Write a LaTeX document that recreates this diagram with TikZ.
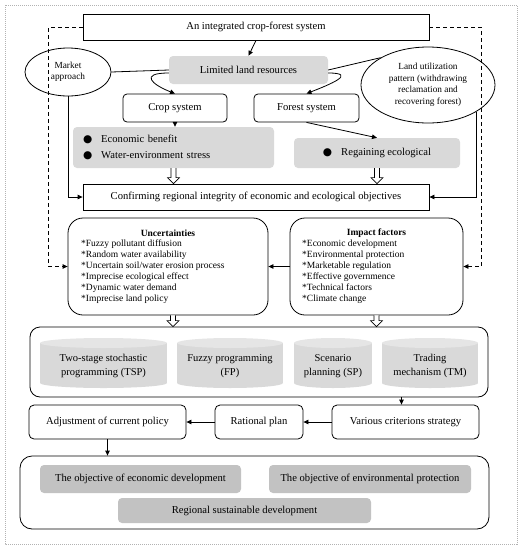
\documentclass[tikz,border=0pt]{standalone}
\usepackage{fontspec}
\setmainfont{Liberation Serif}
\newfontfamily\dejavu{DejaVu Sans}
\usetikzlibrary{arrows.meta,shapes.geometric,calc}
\definecolor{lightg}{gray}{0.85}
\definecolor{topg}{gray}{0.9}
\definecolor{darkg}{gray}{0.76}
\newcommand{\bul}{{\dejavu ●}}
\newcommand{\hollow}[2]{\draw[line width=0.6pt, fill=white] ($(#1)+(-2.5,0)$) -- ($(#2)+(-2.5,-6)$) -- ($(#2)+(-6,-6)$) -- (#2) -- ($(#2)+(6,-6)$) -- ($(#2)+(2.5,-6)$) -- ($(#1)+(2.5,0)$);}
\newcommand{\cyl}[4]{%
  \fill[lightg] (#2,343) rectangle (#3,383);
  \fill[lightg] ({(#2+#3)/2},383) ellipse ({(#3-#2)/2} and 5);
  \fill[topg] ({(#2+#3)/2},343) ellipse ({(#3-#2)/2} and 5);
  \node[cyltext] (#1) at ({(#2+#3)/2},366) {#4};}
\begin{document}
\begin{tikzpicture}[x=1pt,y=-1pt,
  every node/.style={font=\fontsize{10.6}{12}\selectfont},
  box/.style={draw, line width=0.8pt, inner sep=0pt, align=center},
  rbox/.style={box, rounded corners=4pt},
  gbox/.style={fill=lightg, rounded corners=4pt, inner sep=0pt, align=center},
  dbox/.style={fill=darkg, rounded corners=4pt, inner sep=0pt, align=center},
  arr/.style={line width=0.8pt, -{Triangle[length=5pt,width=4.5pt]}},
  dasharr/.style={arr, dash pattern=on 4pt off 3pt},
  small/.style={font=\fontsize{9.5}{11}\selectfont},
  ell/.style={draw, ellipse, line width=0.8pt, inner sep=0pt, align=center, font=\fontsize{9.3}{11.5}\selectfont},
  cyltext/.style={align=center, inner sep=0pt, font=\fontsize{10.5}{14}\selectfont},
  plain/.style={line width=0.8pt}
]
\useasboundingbox (0,0) rectangle (521,550);
\draw[gray!60, line width=0.6pt, dash pattern=on 1pt off 1pt] (5,5) rectangle (517,544);

% top part
\node[box, minimum width=346pt, minimum height=26pt] (top) at (256,27) {An integrated crop-forest system};
\node[gbox, minimum width=159pt, minimum height=28pt] (land) at (248.5,70) {Limited land resources};
\node[rbox, minimum width=104pt, minimum height=28pt] (crop) at (175,108) {Crop system};
\node[rbox, minimum width=105pt, minimum height=28pt] (forest) at (306.5,108) {Forest system};
\node[gbox, minimum width=201pt, minimum height=41pt, text width=181pt, align=left, inner xsep=10pt, font=\fontsize{10.6}{16}\selectfont] (cropb) at (173.5,147.5) {\bul\hspace{9pt}Economic benefit\\ \bul\hspace{9pt}Water-environment stress};
\node[gbox, minimum width=166pt, minimum height=30pt] (regain) at (377,153) {\bul\hspace{9pt}Regaining ecological};
\node[box, minimum width=346pt, minimum height=26pt] (conf) at (256,197) {Confirming regional integrity of economic and ecological objectives};
\node[ell, minimum width=86pt, minimum height=48pt] (market) at (68,72) {Market\\approach};
\node[ell, minimum width=134pt, minimum height=76pt] (lu) at (428,85) {Land utilization\\pattern (withdrawing\\reclamation and\\recovering forest)};

% uncertainties / impact
\node[box, rounded corners=15pt, minimum width=200pt, minimum height=97pt] (unc) at (168,266.5) {};
\node[box, rounded corners=15pt, minimum width=173pt, minimum height=97pt] (imp) at (376.5,266.5) {};
\node[small] (unct) at (168,233) {\textbf{Uncertainties}};
\node[small, anchor=north west, align=left, inner sep=0pt] (unci) at (81,240) {*Fuzzy pollutant diffusion\\*Random water availability\\*Uncertain soil/water erosion process\\*Imprecise ecological effect\\*Dynamic water demand\\*Imprecise land policy};
\node[small] (impt) at (376.5,233) {\textbf{Impact factors}};
\node[small, anchor=north west, align=left, inner sep=0pt] (impi) at (302,240) {*Economic development\\*Environmental protection\\*Marketable regulation\\*Effective governmence\\*Technical factors\\*Climate change};

% methods
\node[box, rounded corners=10pt, minimum width=458pt, minimum height=70pt] (methods) at (259,362) {};
\cyl{tsp}{40}{167}{Two-stage stochastic\\programming (TSP)}
\cyl{fp}{177}{283}{Fuzzy programming\\(FP)}
\cyl{sp}{294}{372}{Scenario\\planning (SP)}
\cyl{tm}{382}{478}{Trading\\mechanism (TM)}

% bottom row
\node[rbox, rounded corners=5pt, minimum width=157pt, minimum height=34pt] (adjust) at (107.5,422) {Adjustment of current policy};
\node[rbox, rounded corners=5pt, minimum width=88pt, minimum height=34pt] (rational) at (259,422) {Rational plan};
\node[rbox, rounded corners=5pt, minimum width=147pt, minimum height=34pt] (various) at (405.5,422) {Various criterions strategy};
\node[box, rounded corners=12pt, minimum width=469pt, minimum height=73pt] (bottom) at (254.5,492.5) {};
\node[dbox, minimum width=201pt, minimum height=28pt] (econ) at (140.5,479) {The objective of economic development};
\node[dbox, minimum width=202pt, minimum height=28pt] (env) at (370,479) {The objective of environmental protection};
\node[dbox, minimum width=253pt, minimum height=25pt] (regional) at (244.5,510.5) {Regional sustainable development};

% connectors
\draw[arr] (top.south) -- (land.north);
\draw[arr] ($(land.west)+(0,3)$) .. controls +(-30,0) and +(-23,-9) .. (crop.north);
\draw[arr] ($(land.east)+(0,3)$) .. controls +(30,0) and +(23,-9) .. (forest.north);
\draw[plain] (land.west) -- (market.east);
\draw[arr] (market.south) |- (conf.west);
\draw[plain] (land.east) -- (lu.150);
\draw[arr] (lu.-29) |- (conf.east);
\draw[arr] (crop.south) -- (crop.south |- cropb.north);
\draw[arr] (forest.south) -- (regain.north);
\hollow{cropb.south}{cropb.south |- conf.north}
\hollow{regain.south}{regain.south |- conf.north}
\coordinate (h3) at ($(unc.south)+(5,0)$);
\hollow{h3}{h3 |- methods.north}
\hollow{imp.south}{imp.south |- methods.north}
\draw[dasharr] (top.west) -- ++(-34,0) |- (unc.west);
\draw[dasharr] (top.east) -- ++(52,0) |- (imp.east);
\draw[arr] (imp.west) -- (unc.east);
\coordinate (vt) at ($(various.north)+(-4,0)$);
\draw[arr] (vt |- methods.south) -- (vt);
\draw[arr] (various.west) -- (rational.east);
\draw[arr] (rational.west) -- (adjust.east);
\draw[arr] (adjust.south) -- (adjust.south |- bottom.north);
\end{tikzpicture}
\end{document}
